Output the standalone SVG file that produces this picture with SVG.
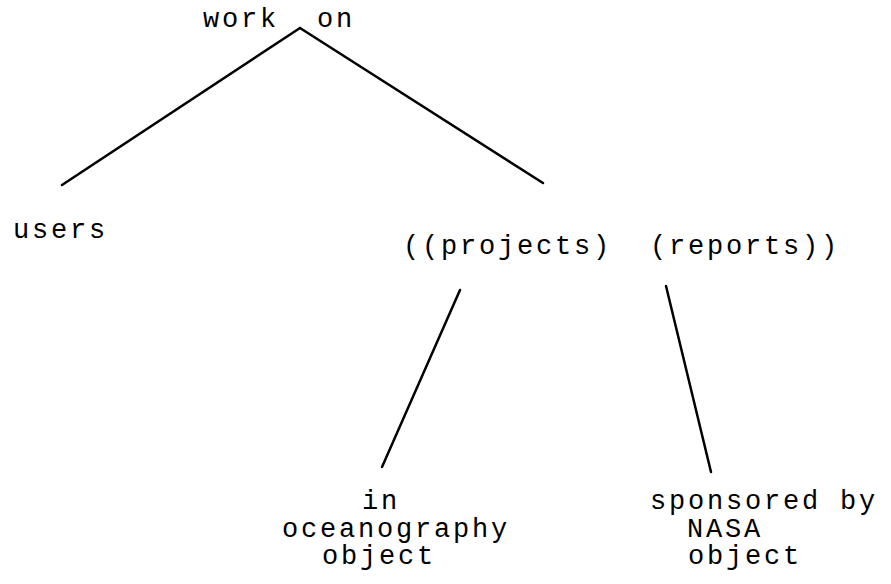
<svg xmlns="http://www.w3.org/2000/svg" width="891" height="584" viewBox="0 0 891 584">
<style>
text{font-family:"Liberation Mono","DejaVu Sans Mono",monospace;font-size:27px;letter-spacing:2.8px;fill:#000;white-space:pre}
.c line{stroke:#000;stroke-width:2.5;stroke-linecap:round}
</style>
<rect width="891" height="584" fill="#fff"/>
<g id="root"><text x="203" y="27" xml:space="preserve">work  on</text></g>
<g id="users"><text x="13" y="238">users</text></g>
<g id="objects"><text x="403" y="254" xml:space="preserve">((projects)  (reports))</text></g>
<g id="in-oceanography"><text x="362" y="509">in</text><text x="282" y="537">oceanography</text><text x="322" y="564">object</text></g>
<g id="sponsored-by-nasa"><text x="650" y="509">sponsored by</text><text x="687" y="537">NASA</text><text x="688" y="564">object</text></g>
<g class="c" id="connectors">
<line x1="300" y1="28" x2="62" y2="185"/>
<line x1="300" y1="28" x2="543" y2="183"/>
<line x1="460" y1="290" x2="382" y2="467"/>
<line x1="666" y1="286" x2="711" y2="472"/>
</g>
</svg>
